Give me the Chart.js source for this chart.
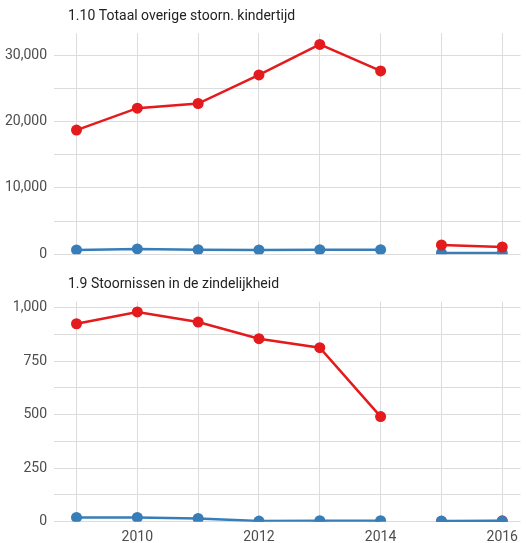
<!DOCTYPE html>
<html>
<head>
<meta charset="utf-8">
<script src="https://cdn.jsdelivr.net/npm/chart.js@4"></script>
<style>
  html, body { margin: 0; padding: 0; background: #fff; }
  body { width: 526px; height: 543px; position: relative; overflow: hidden; }
  .panel { position: absolute; left: 0; width: 526px; }
</style>
</head>
<body>
<div class="panel" style="top:0;height:270px"><canvas id="topChart" width="526" height="270"></canvas></div>
<div class="panel" style="top:270px;height:273px"><canvas id="bottomChart" width="526" height="273"></canvas></div>
<script>
  // Data
  const years = [2009, 2010, 2011, 2012, 2013, 2014, 2015, 2016];
  const breakAfterYear = 2014; // no line between 2014 and 2015

  const topTitle = '1.10 Totaal overige stoorn. kindertijd';
  const topRed = [18700, 22000, 22700, 27000, 31600, 27600, 1400, 1100];
  const topBlue = [650, 800, 700, 650, 700, 700, 200, 200];
  const topYTicks = [0, 10000, 20000, 30000];

  const bottomTitle = '1.9 Stoornissen in de zindelijkheid';
  const bottomRed = [925, 980, 933, 855, 813, 491, 2, 4];
  const bottomBlue = [20, 20, 15, 3, 5, 5, 3, 2];
  const bottomYTicks = [0, 250, 500, 750, 1000];

  const xTickLabels = [2010, 2012, 2014, 2016];

  const RED = '#e41a1c';
  const BLUE = '#377eb8';
  const GRID = '#dcdcdc';
  const FONT = 'Roboto, "Noto Sans", sans-serif';

  // draws the panel title just right of the plot's left edge
  const panelTitle = {
    id: 'panelTitle',
    afterDraw(chart, args, opts) {
      const ctx = chart.ctx;
      ctx.save();
      ctx.font = '14px ' + FONT;
      ctx.fillStyle = '#222';
      ctx.textBaseline = 'middle';
      ctx.textAlign = 'left';
      ctx.fillText(opts.text, opts.x, opts.y);
      ctx.restore();
    }
  };

  // major ticks plus the minor line half way between them (ggplot style grid)
  function withMinor(ticks) {
    const out = [];
    ticks.forEach((t, i) => {
      out.push(t);
      if (i < ticks.length - 1) out.push((t + ticks[i + 1]) / 2);
    });
    return out;
  }

  function series(values, color, order) {
    return {
      data: years.map((y, i) => ({ x: y, y: values[i] })),
      order: order,
      borderColor: color,
      backgroundColor: color,
      borderWidth: 2.5,
      pointRadius: 5.5,
      pointBorderWidth: 0,
      pointBackgroundColor: color,
      pointHoverRadius: 5.5,
      clip: 0,
      segment: {
        borderColor: c => c.p0.parsed.x === breakAfterYear ? 'rgba(0,0,0,0)' : undefined
      }
    };
  }

  function makePanel(id, title, red, blue, yMax, yTicks, cfg) {
    const ctx = document.getElementById(id).getContext('2d');
    const yGrid = withMinor(yTicks);
    return new Chart(ctx, {
      type: 'line',
      data: { datasets: [series(red, RED, cfg.redOrder), series(blue, BLUE, cfg.blueOrder)] },
      plugins: [panelTitle],
      options: {
        responsive: false,
        animation: false,
        events: [],
        layout: { padding: { top: cfg.padTop, left: 0, right: 0, bottom: 0 } },
        plugins: {
          legend: { display: false },
          tooltip: { enabled: false },
          panelTitle: { text: title, x: 68, y: cfg.titleY }
        },
        scales: {
          x: {
            type: 'linear',
            min: 2008.63,
            max: 2016.3,
            border: { display: false },
            grid: { color: GRID, lineWidth: 1, drawTicks: false },
            afterBuildTicks: s => { s.ticks = years.map(v => ({ value: v })); },
            ticks: {
              display: cfg.showX,
              autoSkip: false,
              maxRotation: 0,
              padding: 7,
              color: '#4d4d4d',
              font: { family: FONT, size: 14 },
              callback: v => xTickLabels.includes(v) ? String(v) : ''
            },
            afterFit: s => { s.height = cfg.xHeight; }
          },
          y: {
            min: 0,
            max: yMax,
            border: { display: false },
            grid: { color: GRID, lineWidth: 1, drawTicks: false },
            afterBuildTicks: s => { s.ticks = yGrid.map(v => ({ value: v })); },
            ticks: {
              autoSkip: false,
              padding: 7,
              color: '#4d4d4d',
              font: { family: FONT, size: 14 },
              callback: v => yTicks.includes(v) ? v.toLocaleString('en-US') : ''
            },
            afterFit: s => { s.width = 54; }
          }
        }
      }
    });
  }

  document.addEventListener('DOMContentLoaded', function() {
    makePanel('topChart', topTitle, topRed, topBlue, 33270, topYTicks,
      { padTop: 33.3, xHeight: 15.7, showX: false, titleY: 16, redOrder: 0, blueOrder: 1 });
    makePanel('bottomChart', bottomTitle, bottomRed, bottomBlue, 1028, bottomYTicks,
      { padTop: 31.7, xHeight: 21.3, showX: true, titleY: 14, redOrder: 1, blueOrder: 0 });
  });
</script>
</body>
</html>
